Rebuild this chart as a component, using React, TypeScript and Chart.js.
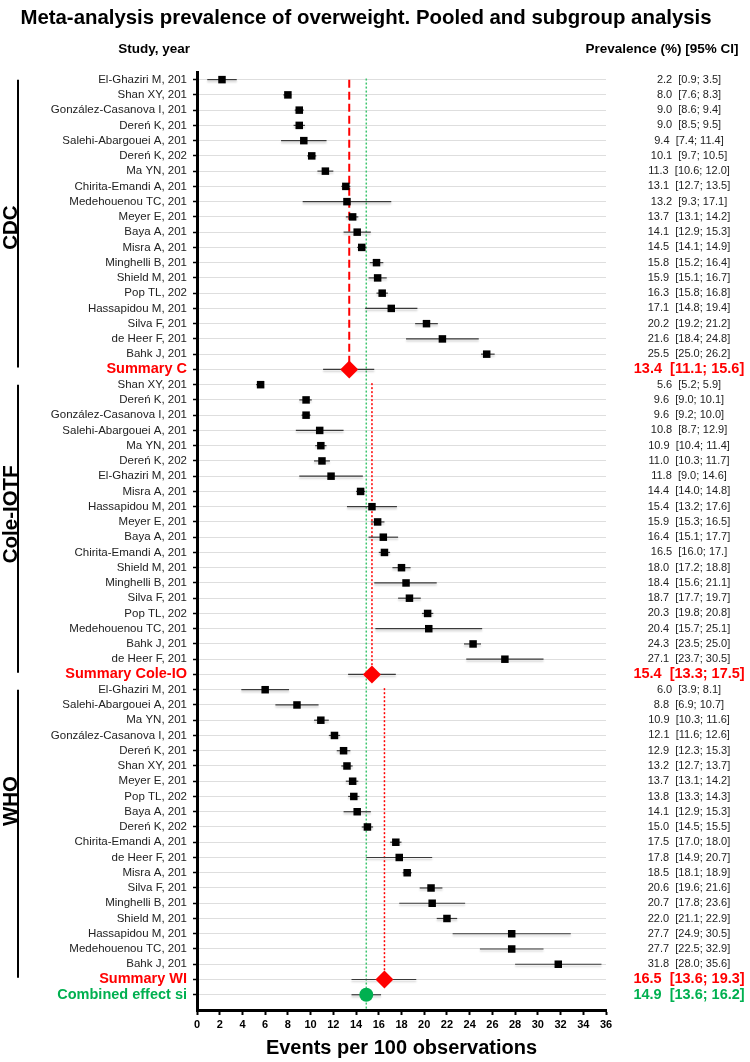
import React, { useEffect, useRef } from 'react';
import { Chart, registerables } from 'chart.js';

Chart.register(...registerables);

const FONT = "'Liberation Sans', Arial, Helvetica, sans-serif";
const NARROW = "'Liberation Sans Narrow', 'Arial Narrow', 'Liberation Sans', Arial, sans-serif";

const TITLE = 'Meta-analysis prevalence of overweight. Pooled and subgroup analysis';
const STUDY_HEADER = 'Study, year';
const CI_HEADER = 'Prevalence (%) [95% CI]';
const X_TITLE = 'Events per 100 observations';

const groupNames = ['CDC', 'Cole-IOTF', 'WHO'];

// ---- CDC ----
const cdcStudies = ['El-Ghaziri M, 201', 'Shan XY, 201', 'González-Casanova I, 201', 'Dereń K, 201', 'Salehi-Abargouei A, 201', 'Dereń K, 202', 'Ma YN, 201', 'Chirita-Emandi A, 201', 'Medehouenou TC, 201', 'Meyer E, 201', 'Baya A, 201', 'Misra A, 201', 'Minghelli B, 201', 'Shield M, 201', 'Pop TL, 202', 'Hassapidou M, 201', 'Silva F, 201', 'de Heer F, 201', 'Bahk J, 201'];
const cdcMean = [2.2, 8.0, 9.0, 9.0, 9.4, 10.1, 11.3, 13.1, 13.2, 13.7, 14.1, 14.5, 15.8, 15.9, 16.3, 17.1, 20.2, 21.6, 25.5];
const cdcLow = [0.9, 7.6, 8.6, 8.5, 7.4, 9.7, 10.6, 12.7, 9.3, 13.1, 12.9, 14.1, 15.2, 15.1, 15.8, 14.8, 19.2, 18.4, 25.0];
const cdcHigh = [3.5, 8.3, 9.4, 9.5, 11.4, 10.5, 12.0, 13.5, 17.1, 14.2, 15.3, 14.9, 16.4, 16.7, 16.8, 19.4, 21.2, 24.8, 26.2];
const cdcText = ['2.2  [0.9; 3.5]', '8.0  [7.6; 8.3]', '9.0  [8.6; 9.4]', '9.0  [8.5; 9.5]', '9.4  [7.4; 11.4]', '10.1  [9.7; 10.5]', '11.3  [10.6; 12.0]', '13.1  [12.7; 13.5]', '13.2  [9.3; 17.1]', '13.7  [13.1; 14.2]', '14.1  [12.9; 15.3]', '14.5  [14.1; 14.9]', '15.8  [15.2; 16.4]', '15.9  [15.1; 16.7]', '16.3  [15.8; 16.8]', '17.1  [14.8; 19.4]', '20.2  [19.2; 21.2]', '21.6  [18.4; 24.8]', '25.5  [25.0; 26.2]'];

// ---- Cole-IOTF ----
const coleStudies = ['Shan XY, 201', 'Dereń K, 201', 'González-Casanova I, 201', 'Salehi-Abargouei A, 201', 'Ma YN, 201', 'Dereń K, 202', 'El-Ghaziri M, 201', 'Misra A, 201', 'Hassapidou M, 201', 'Meyer E, 201', 'Baya A, 201', 'Chirita-Emandi A, 201', 'Shield M, 201', 'Minghelli B, 201', 'Silva F, 201', 'Pop TL, 202', 'Medehouenou TC, 201', 'Bahk J, 201', 'de Heer F, 201'];
const coleMean = [5.6, 9.6, 9.6, 10.8, 10.9, 11.0, 11.8, 14.4, 15.4, 15.9, 16.4, 16.5, 18.0, 18.4, 18.7, 20.3, 20.4, 24.3, 27.1];
const coleLow = [5.2, 9.0, 9.2, 8.7, 10.4, 10.3, 9.0, 14.0, 13.2, 15.3, 15.1, 16.0, 17.2, 15.6, 17.7, 19.8, 15.7, 23.5, 23.7];
const coleHigh = [5.9, 10.1, 10.0, 12.9, 11.4, 11.7, 14.6, 14.8, 17.6, 16.5, 17.7, 17.0, 18.8, 21.1, 19.7, 20.8, 25.1, 25.0, 30.5];
const coleText = ['5.6  [5.2; 5.9]', '9.6  [9.0; 10.1]', '9.6  [9.2; 10.0]', '10.8  [8.7; 12.9]', '10.9  [10.4; 11.4]', '11.0  [10.3; 11.7]', '11.8  [9.0; 14.6]', '14.4  [14.0; 14.8]', '15.4  [13.2; 17.6]', '15.9  [15.3; 16.5]', '16.4  [15.1; 17.7]', '16.5  [16.0; 17.]', '18.0  [17.2; 18.8]', '18.4  [15.6; 21.1]', '18.7  [17.7; 19.7]', '20.3  [19.8; 20.8]', '20.4  [15.7; 25.1]', '24.3  [23.5; 25.0]', '27.1  [23.7; 30.5]'];

// ---- WHO ----
const whoStudies = ['El-Ghaziri M, 201', 'Salehi-Abargouei A, 201', 'Ma YN, 201', 'González-Casanova I, 201', 'Dereń K, 201', 'Shan XY, 201', 'Meyer E, 201', 'Pop TL, 202', 'Baya A, 201', 'Dereń K, 202', 'Chirita-Emandi A, 201', 'de Heer F, 201', 'Misra A, 201', 'Silva F, 201', 'Minghelli B, 201', 'Shield M, 201', 'Hassapidou M, 201', 'Medehouenou TC, 201', 'Bahk J, 201'];
const whoMean = [6.0, 8.8, 10.9, 12.1, 12.9, 13.2, 13.7, 13.8, 14.1, 15.0, 17.5, 17.8, 18.5, 20.6, 20.7, 22.0, 27.7, 27.7, 31.8];
const whoLow = [3.9, 6.9, 10.3, 11.6, 12.3, 12.7, 13.1, 13.3, 12.9, 14.5, 17.0, 14.9, 18.1, 19.6, 17.8, 21.1, 22.5, 24.9, 28.0];
const whoHigh = [8.1, 10.7, 11.6, 12.6, 13.5, 13.7, 14.2, 14.3, 15.3, 15.5, 18.0, 20.7, 18.9, 21.6, 23.6, 22.9, 32.9, 30.5, 35.6];
const whoText = ['6.0  [3.9; 8.1]', '8.8  [6.9; 10.7]', '10.9  [10.3; 11.6]', '12.1  [11.6; 12.6]', '12.9  [12.3; 15.3]', '13.2  [12.7; 13.7]', '13.7  [13.1; 14.2]', '13.8  [13.3; 14.3]', '14.1  [12.9; 15.3]', '15.0  [14.5; 15.5]', '17.5  [17.0; 18.0]', '17.8  [14.9; 20.7]', '18.5  [18.1; 18.9]', '20.6  [19.6; 21.6]', '20.7  [17.8; 23.6]', '22.0  [21.1; 22.9]', '27.7  [24.9; 30.5]', '27.7  [22.5; 32.9]', '31.8  [28.0; 35.6]'];

// ---- Summaries ----
const summaryLabels = ['Summary C', 'Summary Cole-IO', 'Summary WI'];
const summaryMean = [13.4, 15.4, 16.5];
const summaryLow = [11.1, 13.3, 13.6];
const summaryHigh = [15.6, 17.5, 19.3];
const summaryText = ['13.4  [11.1; 15.6]', '15.4  [13.3; 17.5]', '16.5  [13.6; 19.3]'];

const combinedLabel = 'Combined effect si';
const combinedMean = 14.9;
const combinedLow = 13.6;
const combinedHigh = 16.2;
const combinedText = '14.9  [13.6; 16.2]';

const X_MIN = 0;
const X_MAX = 36;
const X_STEP = 2;

const RED = '#ff0000';
const GREEN = '#00b050';
const GREEN_LINE = '#3cc46e';

// ---------- build rows ----------
type Row = { label: string; text: string; mean: number; lo: number; hi: number; kind: 'study' | 'summary' | 'combined' };

const groups = [
  { studies: cdcStudies, mean: cdcMean, lo: cdcLow, hi: cdcHigh, text: cdcText },
  { studies: coleStudies, mean: coleMean, lo: coleLow, hi: coleHigh, text: coleText },
  { studies: whoStudies, mean: whoMean, lo: whoLow, hi: whoHigh, text: whoText },
];

const rows: Row[] = [];
const groupFirstRow: number[] = [];
const groupSummaryRow: number[] = [];
groups.forEach((g, gi) => {
  groupFirstRow.push(rows.length + 1);
  g.studies.forEach((s, i) => {
    rows.push({ label: s, text: g.text[i], mean: g.mean[i], lo: g.lo[i], hi: g.hi[i], kind: 'study' });
  });
  rows.push({ label: summaryLabels[gi], text: summaryText[gi], mean: summaryMean[gi], lo: summaryLow[gi], hi: summaryHigh[gi], kind: 'summary' });
  groupSummaryRow.push(rows.length);
});
rows.push({ label: combinedLabel, text: combinedText, mean: combinedMean, lo: combinedLow, hi: combinedHigh, kind: 'combined' });
const combinedRow = rows.length;

// label anchor rows for the vertical group captions (layout)
const groupCaptionRow = [10.7, 29.5, 48.3];

const rowColor = (r: Row) => (r.kind === 'summary' ? RED : r.kind === 'combined' ? GREEN : '#222');
const rowAt = (v: any) => (typeof v === 'number' ? rows[Math.round(v) - 1] : undefined);

// ---------- datasets ----------
const datasets: any[] = [];

// reference lines
datasets.push({
  data: [{ x: summaryMean[0], y: groupFirstRow[0] }, { x: summaryMean[0], y: groupSummaryRow[0] }],
  showLine: true, borderColor: RED, borderWidth: 2, borderDash: [8, 4], pointRadius: 0, order: 10,
});
[1, 2].forEach((gi) => {
  datasets.push({
    data: [{ x: summaryMean[gi], y: groupFirstRow[gi] - 0.1 }, { x: summaryMean[gi], y: groupSummaryRow[gi] }],
    showLine: true, borderColor: RED, borderWidth: 1.5, borderDash: [2, 2], pointRadius: 0, order: 10,
  });
});
datasets.push({
  data: [{ x: combinedMean, y: 0.93 }, { x: combinedMean, y: 62 }],
  showLine: true, borderColor: GREEN_LINE, borderWidth: 1.5, borderDash: [2, 2], pointRadius: 0, order: 10,
});

// CI lines
rows.forEach((r, i) => {
  datasets.push({
    data: [{ x: r.lo, y: i + 1 }, { x: r.hi, y: i + 1 }],
    showLine: true, borderColor: '#3a3a3a', borderWidth: 1.2, pointRadius: 0, order: 5, _shadow: true,
  });
});

// study squares
datasets.push({
  data: rows.map((r, i) => (r.kind === 'study' ? { x: r.mean, y: i + 1 } : null)).filter(Boolean),
  pointStyle: 'rect', pointRadius: 5.3, backgroundColor: '#000', borderColor: '#000', borderWidth: 0, order: 1,
});
// summary diamonds
datasets.push({
  data: rows.map((r, i) => (r.kind === 'summary' ? { x: r.mean, y: i + 1 } : null)).filter(Boolean),
  pointStyle: 'rectRot', pointRadius: 9, backgroundColor: RED, borderColor: RED, borderWidth: 0, order: 1,
});
// combined circle
datasets.push({
  data: [{ x: combinedMean, y: combinedRow }],
  pointStyle: 'circle', pointRadius: 7, backgroundColor: GREEN, borderColor: GREEN, borderWidth: 0, order: 1,
});

const shadowPlugin = {
  id: 'ciShadow',
  beforeDatasetDraw(chart: any, args: any) {
    const ds = chart.data.datasets[args.index];
    if (ds._shadow) {
      const ctx = chart.ctx;
      ctx.save();
      ctx.shadowColor = 'rgba(0,0,0,0.22)';
      ctx.shadowOffsetY = 2;
      ctx.shadowBlur = 2;
    }
  },
  afterDatasetDraw(chart: any, args: any) {
    const ds = chart.data.datasets[args.index];
    if (ds._shadow) chart.ctx.restore();
  },
};

const textPlugin = {
  id: 'forestText',
  afterDraw(chart: any) {
    const { ctx } = chart;
    const y = chart.scales.y;
    ctx.save();
    ctx.fillStyle = '#000';
    ctx.textBaseline = 'middle';
    ctx.font = `bold 20.4px ${FONT}`;
    ctx.textAlign = 'center';
    ctx.fillText(TITLE, 366, 18);

    ctx.font = `bold 13.5px ${FONT}`;
    ctx.textAlign = 'right';
    ctx.fillText(STUDY_HEADER, 190, 49);
    ctx.textAlign = 'center';
    ctx.fillText(CI_HEADER, 662, 49);

    // right column
    rows.forEach((r, i) => {
      const py = y.getPixelForValue(i + 1);
      ctx.fillStyle = rowColor(r);
      ctx.font = r.kind === 'study' ? `11px ${FONT}` : `bold 14.5px ${FONT}`;
      ctx.textAlign = 'center';
      ctx.fillText(r.text, 689, py);
    });

    // group brackets & captions
    groupNames.forEach((g, gi) => {
      const top = y.getPixelForValue(groupFirstRow[gi]);
      const bottom = y.getPixelForValue(groupSummaryRow[gi] - 0.12);
      ctx.strokeStyle = '#000';
      ctx.lineWidth = 2;
      ctx.beginPath();
      ctx.moveTo(18, top);
      ctx.lineTo(18, bottom);
      ctx.stroke();
      const cy = y.getPixelForValue(groupCaptionRow[gi]);
      ctx.save();
      ctx.translate(17, cy);
      ctx.rotate(-Math.PI / 2);
      ctx.fillStyle = '#000';
      ctx.font = `bold 20.5px ${FONT}`;
      ctx.textAlign = 'center';
      ctx.textBaseline = 'alphabetic';
      ctx.fillText(g, 0, 0);
      ctx.restore();
    });
    ctx.restore();
  },
};

export default function App() {
  const ref = useRef<HTMLCanvasElement>(null);
  useEffect(() => {
    const chart = new Chart(ref.current as HTMLCanvasElement, {
      type: 'scatter',
      data: { datasets },
      plugins: [shadowPlugin, textPlugin],
      options: {
        animation: false,
        responsive: true,
        maintainAspectRatio: false,
        devicePixelRatio: 1,
        layout: { padding: { top: 72, right: 144, left: 0, bottom: 0 } },
        plugins: { legend: { display: false }, tooltip: { enabled: false }, title: { display: false } },
        scales: {
          x: {
            type: 'linear',
            min: X_MIN,
            max: X_MAX,
            ticks: { stepSize: X_STEP, color: '#000', font: { family: NARROW, size: 11, weight: 'bold' }, padding: 3, maxRotation: 0 },
            grid: { drawOnChartArea: false, drawTicks: true, tickLength: 5, tickColor: '#000', tickWidth: 2 },
            border: { color: '#000', width: 3 },
            title: { display: true, text: X_TITLE, color: '#000', font: { family: FONT, size: 20, weight: 'bold' }, padding: { top: 0, bottom: 2 } },
            afterFit: (s: any) => { s.height = 52; },
          },
          y: {
            type: 'linear',
            reverse: true,
            min: 0.5,
            max: 62,
            afterBuildTicks: (s: any) => { s.ticks = rows.map((_, i) => ({ value: i + 1 })); },
            ticks: {
              autoSkip: false,
              padding: 6,
              callback: (v: any) => { const r = rowAt(v); return r ? r.label : ''; },
              color: (c: any) => { const r = c && c.tick ? rowAt(c.tick.value) : undefined; return r ? rowColor(r) : '#222'; },
              font: (c: any) => {
                const r = c && c.tick ? rowAt(c.tick.value) : undefined;
                return r && r.kind !== 'study' ? { family: FONT, size: 14.5, weight: 'bold' } : { family: FONT, size: 11.5 };
              },
            },
            grid: { color: '#dedede', lineWidth: 1, drawTicks: true, tickLength: 4, tickColor: '#000', tickWidth: 1.5 },
            border: { color: '#000', width: 3 },
            afterFit: (s: any) => { s.width = 197; },
          },
        },
      } as any,
    });
    return () => chart.destroy();
  }, []);
  return (
    <div style={{ position: 'absolute', left: 0, top: 0, width: 750, height: 1062, background: '#fff' }}>
      <canvas ref={ref} />
    </div>
  );
}
